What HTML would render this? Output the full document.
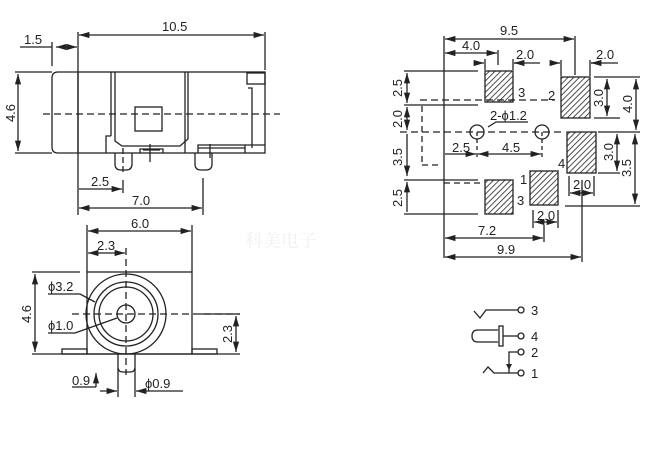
<!DOCTYPE html>
<html><head><meta charset="utf-8"><style>
body{margin:0;background:#fff}
svg{display:block}
text{font-family:"Liberation Sans",Arial,sans-serif;font-size:13px;fill:#222}
</style></head><body>
<svg width="645" height="449" viewBox="0 0 645 449" xmlns="http://www.w3.org/2000/svg">
<defs>
<pattern id="h" width="4" height="4" patternUnits="userSpaceOnUse" patternTransform="rotate(45)">
<rect width="4" height="4" fill="#fff"/><line x1="0" y1="0" x2="0" y2="4" stroke="#222" stroke-width="1.6"/></pattern>
<marker id="a" viewBox="0 0 10 6" refX="10" refY="3" markerWidth="8" markerHeight="5" orient="auto-start-reverse"><path d="M0,0L10,3L0,6z" fill="#222"/></marker>
</defs>
<g stroke="#222" stroke-width="1.3" fill="none">
<line x1="20" y1="47" x2="52" y2="47"/><line x1="52" y1="42" x2="52" y2="66"/>
<line x1="56" y1="47" x2="77" y2="47" marker-end="url(#a)" marker-start="url(#a)"/>
<line x1="78" y1="32" x2="78" y2="215"/>
<line x1="79" y1="35" x2="264" y2="35" marker-end="url(#a)" marker-start="url(#a)"/>
<line x1="265" y1="32" x2="265" y2="70"/>
<path d="M78,72 H58 Q52,72 52,78 V147 Q52,153 58,153 H78"/>
<rect x="78" y="72" width="187" height="81"/>
<line x1="111" y1="72" x2="111" y2="136"/><path d="M111,136 H106 V153"/>
<path d="M115,72 V141 L122,146 H180 L188,139 V72"/><line x1="185" y1="72" x2="185" y2="153"/>
<rect x="135" y="107" width="27" height="24"/>
<path d="M140,153 V149 H163 V153 M143,150 H160"/>
<path d="M198,153 V145 H245 V153 M198,148 H245"/>
<rect x="247" y="73" width="18" height="11"/><path d="M248,88 H252 V148 M245,145 H265"/>
<path d="M115,153 V164 Q115,170 121,170 H126 Q132,170 132,164 V153"/>
<path d="M195,153 V164 Q195,170 201,170 H206 Q212,170 212,164 V153"/>
<line x1="150" y1="144" x2="150" y2="162"/><line x1="210" y1="144" x2="210" y2="158"/>
<line x1="43" y1="114" x2="280" y2="114" stroke-dasharray="7,4"/>
<line x1="123" y1="148" x2="123" y2="175" stroke-dasharray="6,3"/>
<line x1="15" y1="72" x2="52" y2="72"/><line x1="15" y1="153" x2="52" y2="153"/>
<line x1="18" y1="74" x2="18" y2="151" marker-end="url(#a)" marker-start="url(#a)"/>
<line x1="123" y1="180" x2="123" y2="193"/><line x1="203" y1="178" x2="203" y2="215"/>
<line x1="79" y1="189" x2="122" y2="189" marker-end="url(#a)"/>
<line x1="79" y1="208" x2="202" y2="208" marker-end="url(#a)" marker-start="url(#a)"/>
<line x1="87" y1="225" x2="87" y2="272"/><line x1="192" y1="225" x2="192" y2="272"/>
<line x1="88" y1="231" x2="191" y2="231" marker-end="url(#a)" marker-start="url(#a)"/>
<line x1="88" y1="253" x2="125" y2="253" marker-end="url(#a)" marker-start="url(#a)"/>
<rect x="87" y="272" width="105" height="82"/>
<rect x="62" y="349" width="25" height="5"/><rect x="192" y="349" width="25" height="5"/>
<line x1="32" y1="354" x2="240" y2="354"/><line x1="32" y1="272" x2="80" y2="272"/>
<line x1="35" y1="274" x2="35" y2="352" marker-end="url(#a)" marker-start="url(#a)"/>
<circle cx="126" cy="314" r="40"/><circle cx="126" cy="314" r="32"/><circle cx="126" cy="314" r="27"/><circle cx="126" cy="314" r="9"/>
<line x1="126" y1="248" x2="126" y2="375" stroke-dasharray="7,4"/>
<line x1="72" y1="314" x2="240" y2="314" stroke-dasharray="7,4"/>
<path d="M118,354 V367 Q118,372 123,372 H130 Q135,372 135,367 V354"/>
<path d="M48,294 H80 L95,302"/><path d="M48,333 H75 L117,318"/>
<line x1="200" y1="314" x2="240" y2="314"/>
<line x1="236" y1="316" x2="236" y2="352" marker-end="url(#a)" marker-start="url(#a)"/>
<line x1="96" y1="387" x2="96" y2="373" marker-end="url(#a)"/><line x1="72" y1="387" x2="96" y2="387"/>
<line x1="118" y1="368" x2="118" y2="397"/><line x1="135" y1="368" x2="135" y2="397"/>
<line x1="100" y1="391" x2="117" y2="391" marker-end="url(#a)"/>
<line x1="183" y1="391" x2="136" y2="391" marker-end="url(#a)"/>
<line x1="444" y1="36" x2="444" y2="258"/><line x1="575" y1="36" x2="575" y2="75"/>
<line x1="445" y1="39" x2="574" y2="39" marker-end="url(#a)" marker-start="url(#a)"/>
<line x1="445" y1="53" x2="497" y2="53" marker-end="url(#a)" marker-start="url(#a)"/>
<line x1="498" y1="50" x2="498" y2="65"/>
<line x1="485" y1="59" x2="485" y2="70"/><line x1="513" y1="59" x2="513" y2="70"/>
<line x1="475" y1="63" x2="484" y2="63" marker-end="url(#a)"/><line x1="524" y1="63" x2="514" y2="63" marker-end="url(#a)"/><line x1="514" y1="63" x2="540" y2="63"/>
<line x1="561" y1="60" x2="561" y2="76"/><line x1="590" y1="60" x2="590" y2="76"/>
<line x1="550" y1="63" x2="560" y2="63" marker-end="url(#a)"/><line x1="600" y1="63" x2="591" y2="63" marker-end="url(#a)"/><line x1="591" y1="63" x2="618" y2="63"/>
<rect x="485" y="71" width="28" height="31" fill="url(#h)"/>
<rect x="561" y="77" width="29" height="41" fill="url(#h)"/>
<rect x="567" y="132" width="29" height="41" fill="url(#h)"/>
<rect x="485" y="180" width="28" height="34" fill="url(#h)"/>
<rect x="530" y="171" width="28" height="34" fill="url(#h)"/>
<line x1="404" y1="71" x2="478" y2="71"/><line x1="404" y1="105" x2="478" y2="105"/>
<line x1="404" y1="180" x2="478" y2="180"/><line x1="404" y1="214" x2="478" y2="214"/>
<line x1="420" y1="100" x2="555" y2="100" stroke-dasharray="7,4"/>
<line x1="400" y1="132" x2="562" y2="132" stroke-dasharray="7,4"/>
<line x1="422" y1="106" x2="422" y2="165" stroke-dasharray="6,4"/><line x1="422" y1="165" x2="442" y2="165" stroke-dasharray="6,4"/>
<line x1="444" y1="183" x2="480" y2="183" stroke-dasharray="6,4"/>
<line x1="407" y1="73" x2="407" y2="103" marker-end="url(#a)" marker-start="url(#a)"/>
<line x1="407" y1="107" x2="407" y2="130" marker-end="url(#a)" marker-start="url(#a)"/>
<line x1="407" y1="134" x2="407" y2="176" marker-end="url(#a)"/>
<line x1="407" y1="182" x2="407" y2="212" marker-start="url(#a)"/>
<circle cx="477" cy="132" r="7"/><circle cx="542" cy="132" r="7"/>
<line x1="477" y1="132" x2="477" y2="160" stroke-dasharray="4,3"/><line x1="542" y1="132" x2="542" y2="160" stroke-dasharray="4,3"/>
<path d="M528,122 H496 L488,127"/>
<line x1="445" y1="154" x2="476" y2="154" marker-end="url(#a)"/>
<line x1="478" y1="154" x2="541" y2="154" marker-end="url(#a)" marker-start="url(#a)"/>
<line x1="594" y1="77" x2="640" y2="77"/><line x1="594" y1="118" x2="620" y2="118"/>
<line x1="607" y1="79" x2="607" y2="116" marker-end="url(#a)" marker-start="url(#a)"/>
<line x1="636" y1="79" x2="636" y2="130" marker-end="url(#a)" marker-start="url(#a)"/>
<line x1="598" y1="132" x2="640" y2="132"/><line x1="598" y1="173" x2="620" y2="173"/>
<line x1="565" y1="206" x2="640" y2="206"/>
<line x1="617" y1="134" x2="617" y2="171" marker-end="url(#a)" marker-start="url(#a)"/>
<line x1="635" y1="134" x2="635" y2="204" marker-end="url(#a)" marker-start="url(#a)"/>
<line x1="569" y1="176" x2="569" y2="196"/><line x1="594" y1="176" x2="594" y2="196"/>
<line x1="570" y1="193" x2="593" y2="193" marker-end="url(#a)" marker-start="url(#a)"/>
<line x1="533" y1="210" x2="533" y2="228"/><line x1="558" y1="210" x2="558" y2="228"/>
<line x1="534" y1="222" x2="557" y2="222" marker-end="url(#a)" marker-start="url(#a)"/>
<line x1="544" y1="225" x2="544" y2="242"/><line x1="582" y1="180" x2="582" y2="262"/>
<line x1="445" y1="238" x2="543" y2="238" marker-end="url(#a)" marker-start="url(#a)"/>
<line x1="445" y1="257" x2="581" y2="257" marker-end="url(#a)" marker-start="url(#a)"/>
<path d="M474,311 L480,318 L486,310 H518"/><circle cx="521" cy="310" r="3"/>
<path d="M498,330 H478 Q472,330 472,336 Q472,342 478,342 H498"/><rect x="499" y="326" width="4" height="20"/><path d="M503,336 H518"/><circle cx="521" cy="336" r="3"/>
<path d="M518,352 H509 V373"/><circle cx="521" cy="352" r="3"/>
<path d="M483,373 L488,367 L494,373 H518"/><circle cx="521" cy="373" r="3"/>
</g>
<path d="M506,364 L512,364 L509,370z" fill="#222"/>
<g>
<text x="24" y="44">1.5</text><text x="162" y="31">10.5</text>
<text x="17" y="113" transform="rotate(-90 17 113)" text-anchor="middle" dy="-2">4.6</text>
<text x="91" y="186">2.5</text><text x="132" y="205">7.0</text>
<text x="131" y="228">6.0</text><text x="97" y="250">2.3</text>
<text x="33" y="314" transform="rotate(-90 33 314)" text-anchor="middle" dy="-2">4.6</text>
<text x="48" y="291">ϕ3.2</text><text x="48" y="330">ϕ1.0</text>
<text x="234" y="334" transform="rotate(-90 234 334)" text-anchor="middle" dy="-2">2.3</text>
<text x="72" y="385">0.9</text><text x="145" y="388">ϕ0.9</text>
<text x="500" y="35">9.5</text><text x="462" y="50">4.0</text><text x="516" y="59">2.0</text><text x="596" y="59">2.0</text>
<text x="518" y="97">3</text><text x="548" y="100">2</text><text x="558" y="168">4</text><text x="517" y="205">3</text><text x="520" y="184">1</text>
<text x="490" y="120">2-ϕ1.2</text>
<text x="452" y="152">2.5</text><text x="502" y="152">4.5</text>
<text x="573" y="189">2.0</text><text x="537" y="220">2.0</text>
<text x="478" y="235">7.2</text><text x="497" y="254">9.9</text>
<text x="404" y="88" transform="rotate(-90 404 88)" text-anchor="middle" dy="-2">2.5</text>
<text x="404" y="119" transform="rotate(-90 404 119)" text-anchor="middle" dy="-2">2.0</text>
<text x="404" y="157" transform="rotate(-90 404 157)" text-anchor="middle" dy="-2">3.5</text>
<text x="404" y="198" transform="rotate(-90 404 198)" text-anchor="middle" dy="-2">2.5</text>
<text x="605" y="98" transform="rotate(-90 605 98)" text-anchor="middle" dy="-2">3.0</text>
<text x="634" y="104" transform="rotate(-90 634 104)" text-anchor="middle" dy="-2">4.0</text>
<text x="615" y="152" transform="rotate(-90 615 152)" text-anchor="middle" dy="-2">3.0</text>
<text x="633" y="168" transform="rotate(-90 633 168)" text-anchor="middle" dy="-2">3.5</text>
<text x="531" y="315">3</text><text x="531" y="341">4</text><text x="531" y="357">2</text><text x="531" y="378">1</text>
<text x="245" y="247" style="font-size:18px;fill:#eef0f4;font-family:'Noto Serif CJK SC',serif">科美电子</text>
</g>
</svg>
</body></html>
